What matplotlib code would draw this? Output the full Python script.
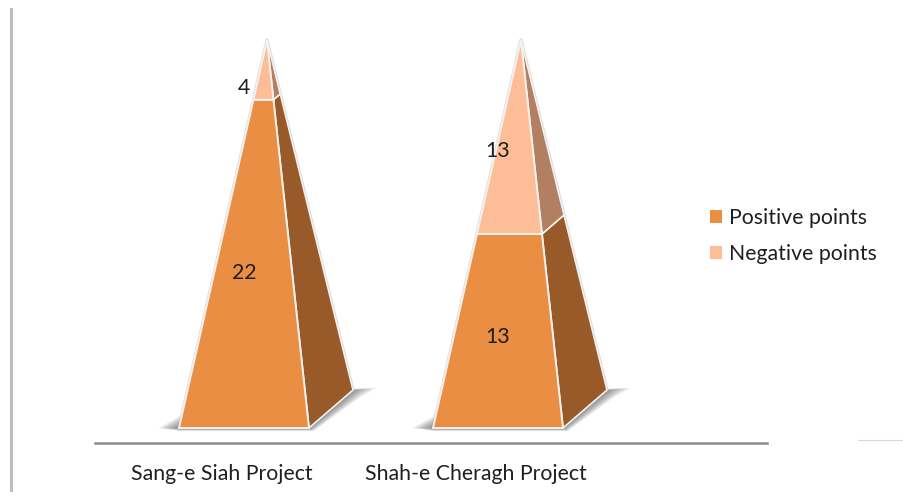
import numpy as np
import matplotlib
matplotlib.use("Agg")
import matplotlib.pyplot as plt
from matplotlib.lines import Line2D
from matplotlib.patches import Patch, Polygon

plt.rcParams["font.family"] = ["Lato", "DejaVu Sans"]

projects = ["Sang-e Siah Project", "Shah-e Cheragh Project"]
positive = [22, 13]
negative = [4, 13]
series_names = ["Positive points", "Negative points"]

W, H = 904, 501
# pixel <-> data: x=0 at px 222, one category = 254 px; y=0 at py 428, y=1 (100%) at py 40
X0, XS = 222, 254
Y0, YS = 428, 388

FRONT = ["#E98E42", "#FDBD97"]
SIDE = ["#975A28", "#B37F62"]
LABEL_DY = [[7, 16], [4, 12]]  # px, label shift below segment middle
TEXT_SIZE = 15.3


def pyramid(ax, xc, shares, fronts, sides):
    # corners in data units
    fl = np.array([xc - 43 / XS, 0.0])
    fr = np.array([xc + 87 / XS, 0.0])
    br = np.array([xc + 131 / XS, 38 / YS])
    apex = np.array([xc + 45 / XS, 1.0])

    # soft ground shadow, drawn as stacked see-through layers
    for s in np.linspace(1, 0.08, 18):
        pts = [fl + [2 / XS, 13 * s / YS], fl + [-21 * s / XS, 0], fl + [0, -3 * s / YS],
               fr + [5 * s / XS, -3 * s / YS], br + [8 * s / XS, -7 * s / YS],
               br + [24 * s / XS, 2 / YS], br, fr, fl]
        ax.add_patch(Polygon(pts, fc="#5A5A5A", ec="none", alpha=0.05, zorder=1))

    # grey halo round the silhouette
    ax.add_patch(Polygon([fl, fr, br, apex], fc="none", ec="#999999", lw=2.4, alpha=0.35,
                         joinstyle="round", zorder=2))

    low = 0.0
    for share, fc, sc in zip(shares, fronts, sides):
        high = low + share
        a, b = fl + (apex - fl) * low, fl + (apex - fl) * high
        c, d = fr + (apex - fr) * high, fr + (apex - fr) * low
        e, f = br + (apex - br) * high, br + (apex - br) * low
        ax.add_patch(Polygon([d, c, e, f], fc=sc, ec="#F4F1EE", lw=1.2, zorder=3))
        ax.add_patch(Polygon([a, b, c, d], fc=fc, ec="#F4F1EE", lw=1.4, zorder=4))
        low = high


fig = plt.figure(figsize=(W / 100, H / 100), dpi=100, facecolor="white")
left, right, top, bottom = 95, 767, 9, 443
ax = fig.add_axes([left / W, 1 - bottom / H, (right - left) / W, (bottom - top) / H])
ax.set_xlim((left - X0) / XS, (right - X0) / XS)
ax.set_ylim((Y0 - bottom) / YS, (Y0 - top) / YS)
ax.patch.set_alpha(0)

for spine in ["top", "right", "left"]:
    ax.spines[spine].set_visible(False)
ax.spines["bottom"].set_color("#8C8C8C")
ax.spines["bottom"].set_linewidth(1.8)
ax.set_yticks([])
ax.set_xticks(range(len(projects)))
ax.set_xticklabels(projects, fontsize=TEXT_SIZE, color="#1F1F1F")
ax.tick_params(axis="x", length=0, pad=15)

for i, name in enumerate(projects):
    total = positive[i] + negative[i]
    shares = [positive[i] / total, negative[i] / total]
    pyramid(ax, i, shares, FRONT, SIDE)

    low = 0.0
    for share, value, dy in zip(shares, [positive[i], negative[i]], LABEL_DY[i]):
        ax.annotate(str(value), (i, low + share / 2), xytext=(22, -(dy + 2)), textcoords="offset pixels",
                    ha="center", va="center", fontsize=TEXT_SIZE, color="#1F1F1F", zorder=6)
        low += share

handles = [Patch(fc=FRONT[0], ec="none"), Patch(fc=FRONT[1], ec="none")]
ax.legend(handles, series_names, loc="center left", frameon=False, fontsize=TEXT_SIZE,
          bbox_to_anchor=((710 - left) / (right - left), 1 - (236 - top) / (bottom - top)),
          handlelength=0.58, handleheight=0.58, handletextpad=0.3, labelspacing=0.78,
          labelcolor="#1F1F1F", borderpad=0, borderaxespad=0)

# left rule and the faint tail of the baseline, both outside the axes frame
fig.add_artist(Line2D([11 / W, 11 / W], [1 - 9 / H, 1 - 490 / H], color="#BDBDBD", lw=2.2))
fig.add_artist(Line2D([858 / W, 904 / W], [1 - 440 / H, 1 - 440 / H], color="#D8D8D8", lw=0.8))

fig.savefig("out.png", dpi=100)
